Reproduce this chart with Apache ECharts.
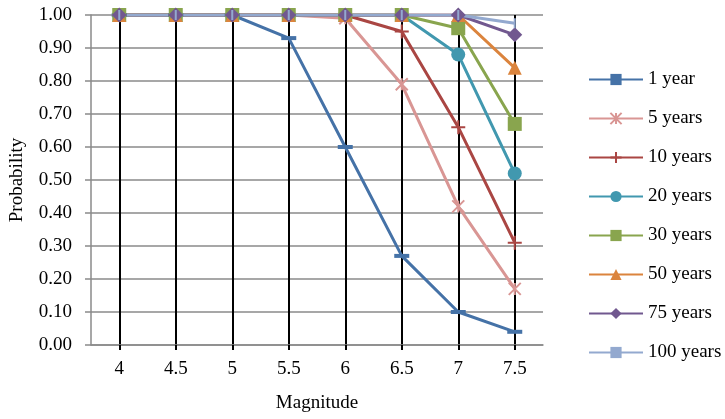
<!DOCTYPE html>
<html>
<head>
<meta charset="utf-8">
<script src="https://cdn.jsdelivr.net/npm/echarts@6/dist/echarts.min.js"></script>
<style>
html, body { margin: 0; padding: 0; background: #fff; }
#chart { width: 725px; height: 419px; }
</style>
</head>
<body>
<div id="chart"></div>
<script type="text/javascript">
var magnitudes = ['4', '4.5', '5', '5.5', '6', '6.5', '7', '7.5'];
var yTicks = [0, 0.1, 0.2, 0.3, 0.4, 0.5, 0.6, 0.7, 0.8, 0.9, 1.0];

var year1   = [1.00, 1.00, 1.00, 0.93, 0.60, 0.27, 0.10, 0.04];
var years5  = [1.00, 1.00, 1.00, 1.00, 0.99, 0.79, 0.42, 0.17];
var years10 = [1.00, 1.00, 1.00, 1.00, 1.00, 0.95, 0.66, 0.31];
var years20 = [1.00, 1.00, 1.00, 1.00, 1.00, 1.00, 0.88, 0.52];
var years30 = [1.00, 1.00, 1.00, 1.00, 1.00, 1.00, 0.96, 0.67];
var years50 = [1.00, 1.00, 1.00, 1.00, 1.00, 1.00, 1.00, 0.84];
var years75 = [1.00, 1.00, 1.00, 1.00, 1.00, 1.00, 1.00, 0.94];
var years100 = [1.00, 1.00, 1.00, 1.00, 1.00, 1.00, 1.00, 0.975];

var font = '"Liberation Serif", "Times New Roman", serif';

// stroke-only markers (x, +) need a border to show
function lineSeries(name, data, color, symbol, size, stroked) {
    return {
        name: name,
        type: 'line',
        data: data,
        symbol: symbol,
        symbolSize: size,
        lineStyle: { color: color, width: 3 },
        itemStyle: stroked ? { color: color, borderColor: color, borderWidth: 2 } : { color: color }
    };
}

var option = {
    animation: false,
    grid: { left: 91, top: 15, right: 182, bottom: 74, outerBoundsMode: 'none' },
    legend: {
        orient: 'vertical',
        left: 583,
        top: 65,
        itemWidth: 54,
        itemHeight: 14,
        itemGap: 20,
        textStyle: { fontFamily: font, fontSize: 19, color: '#000' }
    },
    xAxis: {
        type: 'category',
        data: magnitudes,
        boundaryGap: true,
        name: 'Magnitude',
        nameLocation: 'middle',
        nameGap: 49,
        nameTextStyle: { fontFamily: font, fontSize: 19, color: '#000' },
        axisLine: { lineStyle: { color: '#8a8a8a', width: 1.5 } },
        axisTick: { show: true, alignWithLabel: true, length: 5, lineStyle: { color: '#000', width: 2 } },
        axisLabel: { fontFamily: font, fontSize: 19, color: '#000', margin: 15 },
        splitLine: { show: true, alignWithLabel: true, lineStyle: { color: '#000', width: 2 } }
    },
    yAxis: {
        type: 'value',
        min: yTicks[0],
        max: yTicks[yTicks.length - 1],
        interval: 0.1,
        name: 'Probability',
        nameLocation: 'middle',
        nameRotate: 90,
        nameGap: 64,
        nameTextStyle: { fontFamily: font, fontSize: 19, color: '#000' },
        axisLine: { show: true, lineStyle: { color: '#8a8a8a', width: 1.5 } },
        axisTick: { show: true, length: 6, lineStyle: { color: '#8a8a8a', width: 1.5 } },
        axisLabel: {
            fontFamily: font, fontSize: 19, color: '#000', margin: 19,
            formatter: function (v) { return v.toFixed(2); }
        },
        splitLine: { show: true, lineStyle: { color: '#8a8a8a', width: 1.5 } }
    },
    series: [
        lineSeries('1 year', year1, '#4572A7', 'rect', [15, 4], false),
        lineSeries('5 years', years5, '#D99694', 'path://M0,0L10,10M10,0L0,10M5,0L5,10', 12, true),
        lineSeries('10 years', years10, '#AA4643', 'path://M0,5L10,5M5,0L5,10', 14, true),
        lineSeries('20 years', years20, '#4198AF', 'circle', 14, false),
        lineSeries('30 years', years30, '#89A54E', 'rect', 14, false),
        lineSeries('50 years', years50, '#DB843D', 'triangle', 14, false),
        lineSeries('75 years', years75, '#71588F', 'diamond', 15, false),
        lineSeries('100 years', years100, '#93A9CF', 'rect', [2, 10], false)
    ]
};

var myChart = echarts.init(document.getElementById('chart'));
myChart.setOption(option);
</script>
</body>
</html>
